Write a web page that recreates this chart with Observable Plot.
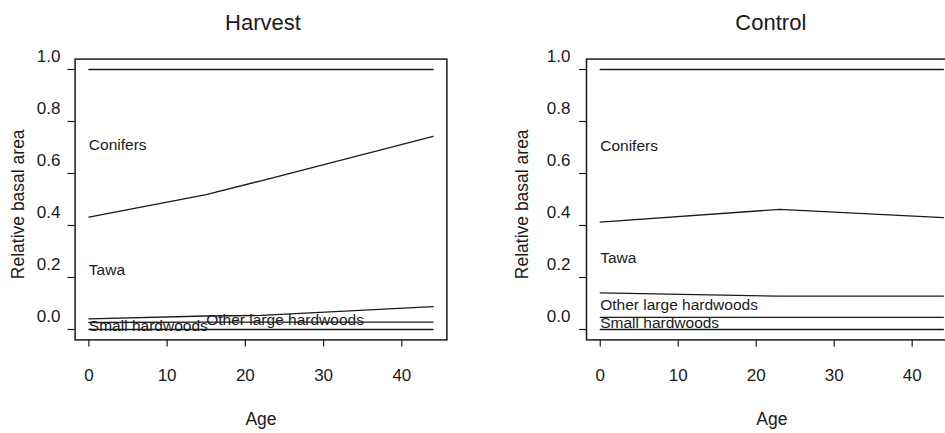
<!DOCTYPE html>
<html><head><meta charset="utf-8">
<script src="https://cdn.jsdelivr.net/npm/d3@7"></script>
<script src="https://cdn.jsdelivr.net/npm/@observablehq/plot@0.6"></script>
<style>
html,body{margin:0;padding:0;background:#fff;}
#wrap{position:relative;width:945px;height:433px;overflow:hidden;background:#fff;}
#wrap svg{position:absolute;top:0;}
</style></head><body><div id="wrap"></div>
<script>
// ---- data ----
const ageTicks = [0, 10, 20, 30, 40];
const valueTicks = [0, 0.2, 0.4, 0.6, 0.8, 1.0];

// Harvest: cumulative boundaries between groups
const harvestAge = [0, 15, 22, 44];
const harvestTotal = [1, 1, 1, 1];
const harvestConiferBase = [0.432, 0.519, 0.572, 0.743];
const harvestTawaBase = [0.041, 0.052, 0.054, 0.088];
const harvestOtherBase = [0.027, 0.028, 0.028, 0.028];
const harvestSmallBase = [0, 0, 0, 0];
const harvestLabels = ["Conifers", "Tawa", "Other large hardwoods", "Small hardwoods"];
const harvestLabelAge = [0, 0, 15, 0];
const harvestLabelValue = [0.71, 0.229, 0.035, 0.013];

// Control
const controlAge = [0, 23, 44];
const controlTotal = [1, 1, 1];
const controlConiferBase = [0.413, 0.462, 0.43];
const controlTawaBase = [0.141, 0.128, 0.128];
const controlOtherBase = [0.047, 0.047, 0.047];
const controlSmallBase = [0, 0, 0];
const controlLabels = ["Conifers", "Tawa", "Other large hardwoods", "Small hardwoods"];
const controlLabelAge = [0, 0, 0, 0];
const controlLabelValue = [0.705, 0.275, 0.093, 0.023];

const FONT = "'Liberation Sans', Arial, Helvetica, sans-serif";
const INK = "#1a1a1a";

function rows(age, bounds) {
  const out = [];
  bounds.forEach((vals, b) => vals.forEach((v, i) => out.push({age: age[i], value: v, boundary: b})));
  return out;
}

function panel(cfg) {
  const data = rows(cfg.age, cfg.bounds);
  const labs = cfg.labels.map((t, i) => ({t, age: cfg.labelAge[i], value: cfg.labelValue[i]}));
  return Plot.plot({
    width: cfg.width,
    height: 433,
    marginTop: 58.6,
    marginBottom: 93.6,
    marginLeft: cfg.marginLeft,
    marginRight: cfg.marginRight,
    style: {fontFamily: FONT, color: INK, background: "transparent", overflow: "visible"},
    x: {domain: [-1.76, 45.76]},
    y: {domain: [-0.04, 1.04]},
    marks: [
      Plot.frame({stroke: INK, strokeWidth: 1.5}),
      Plot.line(data, {x: "age", y: "value", z: "boundary", stroke: INK, strokeWidth: 1.3}),
      Plot.text(labs, {x: "age", y: "value", text: "t", textAnchor: "start", lineAnchor: "middle", fontSize: 15.5, fill: INK}),
      Plot.axisX({ticks: ageTicks, tickSize: 7, tickPadding: 22, tickFormat: d => String(d), fontSize: 17, label: null, stroke: INK, strokeWidth: 1.2}),
      Plot.axisY({ticks: valueTicks, tickSize: 7, fill: "none", label: null, stroke: INK, strokeWidth: 1.2}),
      Plot.axisY({ticks: valueTicks, tickSize: 0, tickPadding: cfg.yTickPad, dy: -12.8, tickFormat: d3.format(".1f"), fontSize: 17, label: null, fill: INK}),
      Plot.text([cfg.title], {text: d => d, frameAnchor: "top", textAnchor: "middle", dy: -36.4, dx: cfg.titleDx, lineAnchor: "middle", fontSize: 22, fill: INK}),
      Plot.text(["Age"], {text: d => d, frameAnchor: "bottom", textAnchor: "middle", dy: 79.1, lineAnchor: "middle", fontSize: 17.5, fill: INK}),
      Plot.text(["Relative basal area"], {text: d => d, frameAnchor: "left", textAnchor: "middle", dx: cfg.ylabDx, dy: 4.8, rotate: -90, lineAnchor: "middle", fontSize: 17.5, fill: INK})
    ]
  });
}

const wrap = document.getElementById("wrap");
const left = panel({
  title: "Harvest", age: harvestAge,
  bounds: [harvestTotal, harvestConiferBase, harvestTawaBase, harvestOtherBase, harvestSmallBase],
  labels: harvestLabels, labelAge: harvestLabelAge, labelValue: harvestLabelValue,
  width: 472, marginLeft: 74.6, marginRight: 25.6, yTickPad: 14.6, ylabDx: -56.3, titleDx: 2
});
left.style.left = "0px";
wrap.appendChild(left);

const right = panel({
  title: "Control", age: controlAge,
  bounds: [controlTotal, controlConiferBase, controlTawaBase, controlOtherBase, controlSmallBase],
  labels: controlLabels, labelAge: controlLabelAge, labelValue: controlLabelValue,
  width: 500, marginLeft: 114, marginRight: 15.4, yTickPad: 16, ylabDx: -64.3, titleDx: -1
});
right.style.left = "472px";
wrap.appendChild(right);
</script>
</body></html>
